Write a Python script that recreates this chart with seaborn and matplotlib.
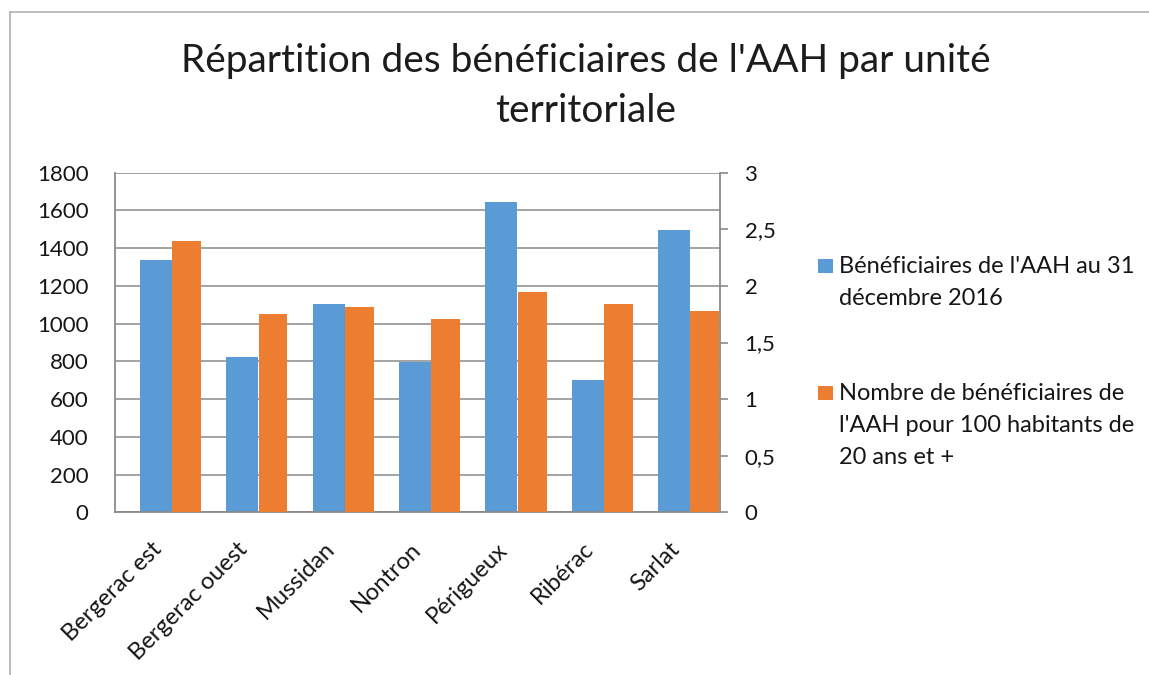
import numpy as np
import pandas as pd
import matplotlib
matplotlib.use("Agg")
import matplotlib.pyplot as plt
import seaborn as sns
from matplotlib.lines import Line2D
from matplotlib.patches import Rectangle

# ---------------- data ----------------
categories = ["Bergerac est", "Bergerac ouest", "Mussidan", "Nontron",
              "Périgueux", "Ribérac", "Sarlat"]
beneficiaires = [1337, 824, 1102, 795, 1646, 699, 1494]
taux_100hab = [2.40, 1.75, 1.81, 1.71, 1.95, 1.84, 1.78]
series_names = ["Bénéficiaires de l'AAH au 31\ndécembre 2016",
                "Nombre de bénéficiaires de\nl'AAH pour 100 habitants de\n20 ans et +"]
left_ticks = [0, 200, 400, 600, 800, 1000, 1200, 1400, 1600, 1800]
right_ticks = [0, 0.5, 1, 1.5, 2, 2.5, 3]
right_tick_labels = ["0", "0,5", "1", "1,5", "2", "2,5", "3"]
title_text = "Répartition des bénéficiaires de l'AAH par unité\nterritoriale"

BLUE = "#5B9BD5"
ORANGE = "#ED7D31"
GRID = "#8A8A8A"
TXT = "#161616"

sns.set_theme(style="white")
plt.rcParams["font.family"] = ["Lato", "DejaVu Sans"]

W, H = 1149, 675
fig = plt.figure(figsize=(W / 100, H / 100), dpi=100)
fig.patch.set_facecolor("white")

left_px, right_px, top_px, bot_px = 115, 719.5, 172.7, 512.3
ax = fig.add_axes([left_px / W, 1 - bot_px / H, (right_px - left_px) / W, (bot_px - top_px) / H])
ax2 = ax.twinx()

pos = np.arange(len(categories))
blue_off, blue_w = -0.025, 0.37
orange_off, orange_w = 0.33, 0.335
df1 = pd.DataFrame({"x": pos + blue_off, "y": beneficiaires})
df2 = pd.DataFrame({"x": pos + orange_off, "y": taux_100hab})

sns.barplot(data=df1, x="x", y="y", native_scale=True, width=blue_w, color=BLUE,
            saturation=1, errorbar=None, ax=ax, linewidth=0)
sns.barplot(data=df2, x="x", y="y", native_scale=True, width=orange_w, color=ORANGE,
            saturation=1, errorbar=None, ax=ax2, linewidth=0)

ax.set_xlim(-0.5, 6.5)
ax.set_ylim(0, 1800)
ax2.set_ylim(0, 3)

ax.set_yticks(left_ticks)
ax.set_yticklabels([str(v) for v in left_ticks])
ax2.set_yticks(right_ticks)
ax2.set_yticklabels(right_tick_labels)

ax.set_xticks(pos)
ax.set_xticklabels(categories, rotation=45, ha="right", va="center",
                   rotation_mode="anchor")

ax.set_xlabel("")
ax.set_ylabel("")
ax2.set_xlabel("")
ax2.set_ylabel("")

ax.grid(axis="y", color=GRID, linewidth=1.1)
ax.grid(axis="x", visible=False)
ax2.grid(False)
ax.set_axisbelow(True)

for a in (ax, ax2):
    for s in a.spines.values():
        s.set_visible(False)
ax.spines["left"].set_visible(True)
ax.spines["bottom"].set_visible(True)
ax2.spines["right"].set_visible(True)
for s in (ax.spines["left"], ax.spines["bottom"], ax2.spines["right"]):
    s.set_color(GRID)
    s.set_linewidth(1.3)

ax.tick_params(axis="y", length=0, pad=19, labelsize=16, labelcolor=TXT)
ax.tick_params(axis="x", length=0, pad=24, labelsize=17, labelcolor=TXT)
ax2.tick_params(axis="y", direction="out", length=6, width=1.2, color=GRID,
                pad=12, labelsize=16, labelcolor=TXT)

# title (va="baseline" aligns the last line's baseline)
fig.text(586 / W, 1 - 122 / H, title_text, ha="center", va="baseline",
         fontsize=28, color="#1c1c1c", linespacing=1.47)

# legend (squares aligned with first line of each label)
leg_x_sq = 818 / W
leg_x_txt = 839 / W
sq_w, sq_h = 14.5 / W, 14.5 / H
first_baselines = [273, 400]
for name, col, base in zip(series_names, [BLUE, ORANGE], first_baselines):
    fig.add_artist(Rectangle((leg_x_sq, 1 - base / H), sq_w, sq_h,
                             transform=fig.transFigure, facecolor=col, edgecolor="none"))
    for i, line in enumerate(name.split("\n")):
        fig.text(leg_x_txt, 1 - (base + 32 * i) / H, line, ha="left", va="baseline",
                 fontsize=17, color=TXT)

# outer frame (top and left edges visible)
frame_col = "#B0B0B0"
fig.add_artist(Line2D([10 / W, 1], [1 - 12 / H, 1 - 12 / H], transform=fig.transFigure,
                      color=frame_col, linewidth=1.2))
fig.add_artist(Line2D([10 / W, 10 / W], [0, 1 - 12 / H], transform=fig.transFigure,
                      color=frame_col, linewidth=1.2))

fig.savefig("out.png", dpi=100)
